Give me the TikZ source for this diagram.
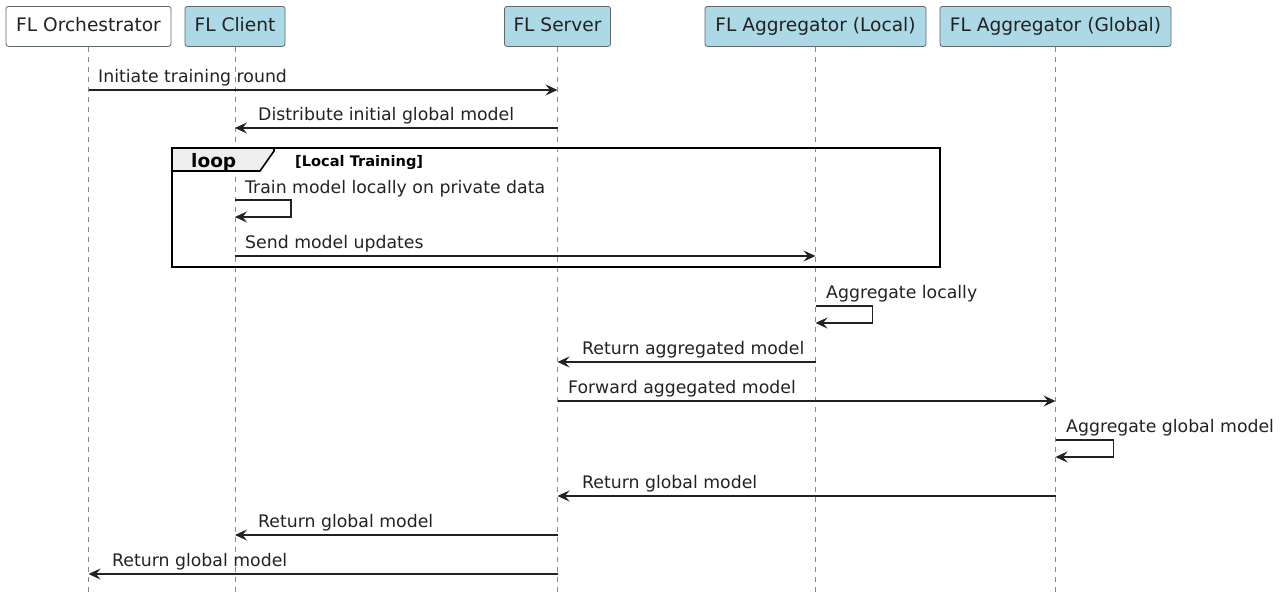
\documentclass[tikz,border=0pt]{standalone}
\usepackage{fontspec}
\setmainfont{DejaVu Sans}
\usetikzlibrary{arrows.meta}
\definecolor{partfill}{HTML}{ADD8E6}
\definecolor{partline}{HTML}{5E6A70}
\definecolor{lifeline}{HTML}{8A8A8A}
\definecolor{msgcol}{HTML}{222222}
\definecolor{tabfill}{HTML}{EEEEEE}
\begin{document}
\begin{tikzpicture}[x=1pt,y=-1pt,
  participant/.style={draw=partline, line width=0.8pt, rounded corners=2.5pt, fill=partfill,
    minimum height=40pt, inner xsep=0pt, text height=14pt, text depth=4pt,
    text=msgcol, font=\fontsize{18.6}{21}\selectfont, anchor=north},
  plainpart/.style={participant, fill=white},
  life/.style={draw=lifeline, line width=0.7pt, dash pattern=on 5pt off 5pt},
  msg/.style={draw=msgcol, line width=1.3pt, -{Stealth[length=12pt,width=11pt,inset=4.5pt]}},
  lbl/.style={anchor=base west, inner sep=0pt, text=msgcol, font=\fontsize{17.3}{20}\selectfont},
  frame/.style={draw=black, line width=1.6pt},
]
\useasboundingbox (0,0) rectangle (1286,592);

% participants
\node[plainpart, minimum width=165pt] (po) at (88.5,6) {FL Orchestrator};
\node[participant, minimum width=100pt] (pc) at (235,6) {FL Client};
\node[participant, minimum width=106pt] (ps) at (557.5,6) {FL Server};
\node[participant, minimum width=221pt] (pl) at (815.5,6) {FL Aggregator (Local)};
\node[participant, minimum width=231pt] (pg) at (1055.5,6) {FL Aggregator (Global)};

% lifelines
\foreach \p in {po,pc,ps,pl,pg}{
  \coordinate (\p-end) at (\p.south |- 0,592);
  \draw[life] (\p.south) -- (\p-end);
}

% loop frame
\draw[frame] (172,148) rectangle (940,267);
\draw[frame, fill=tabfill] (172,148) -- (274,148) -- (274,151) -- (260,171) -- (172,171) -- cycle;
\node[anchor=base west, inner sep=0pt, font=\fontsize{18.5}{21}\selectfont\bfseries] (looplbl) at (191,167) {loop};
\node[anchor=base west, inner sep=0pt, font=\fontsize{14.6}{17}\selectfont\bfseries] (loopcond) at (295,166) {[Local Training]};

% messages
\draw[msg] (po.south |- 0,90) -- (ps.south |- 0,90);
\node[lbl] (m1) at (98,82) {Initiate training round};

\draw[msg] (ps.south |- 0,128) -- (pc.south |- 0,128);
\node[lbl] (m2) at (258,120) {Distribute initial global model};

\node[lbl] (m3) at (245,193) {Train model locally on private data};
\draw[msg] (pc.south |- 0,200) -- ++(56,0) -- ++(0,17) -- (pc.south |- 0,217);

\draw[msg] (pc.south |- 0,256) -- (pl.south |- 0,256);
\node[lbl] (m4) at (245,248) {Send model updates};

\node[lbl] (m5) at (826,298) {Aggregate locally};
\draw[msg] (pl.south |- 0,306) -- ++(57,0) -- ++(0,17) -- (pl.south |- 0,323);

\draw[msg] (pl.south |- 0,362) -- (ps.south |- 0,362);
\node[lbl] (m6) at (582,354) {Return aggregated model};

\draw[msg] (ps.south |- 0,401) -- (pg.south |- 0,401);
\node[lbl] (m7) at (568,393) {Forward aggegated model};

\node[lbl] (m8) at (1066,432) {Aggregate global model};
\draw[msg] (pg.south |- 0,440) -- ++(58,0) -- ++(0,17) -- (pg.south |- 0,457);

\draw[msg] (pg.south |- 0,496) -- (ps.south |- 0,496);
\node[lbl] (m9) at (582,488) {Return global model};

\draw[msg] (ps.south |- 0,535) -- (pc.south |- 0,535);
\node[lbl] (m10) at (258,527) {Return global model};

\draw[msg] (ps.south |- 0,574) -- (po.south |- 0,574);
\node[lbl] (m11) at (112,566) {Return global model};
\end{tikzpicture}
\end{document}
